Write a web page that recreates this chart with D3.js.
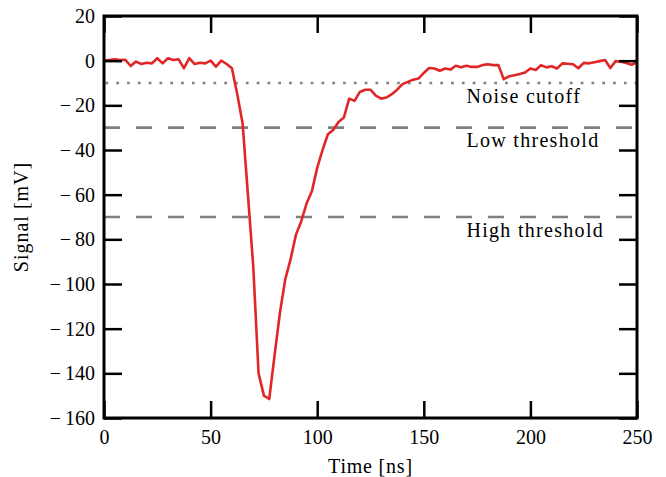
<!DOCTYPE html>
<html><head><meta charset="utf-8">
<script src="https://cdn.jsdelivr.net/npm/d3@7"></script>
<style>
html,body{margin:0;padding:0;background:#fff;}
svg text{font-family:"Liberation Serif","Times New Roman",serif;fill:#000;}
</style></head>
<body><svg id="chart" width="666" height="477"></svg>
<script>
const timeNs = d3.range(0, 250.01, 2.5);
const signalMv = [
  0, 0.3, 0.6, 0.3, 0.4, -2.4, -0.4, -1.5, -0.9, -1.2,
  1.1, -1.2, 1.1, 0.3, 0.6, -3.4, 1.1, -1.5, -0.9, -1.2,
  0, -2.7, 0, -1.5, -3.4, -15, -28, -60, -92, -140,
  -150, -151.5, -132, -113, -98, -89, -78, -72, -64, -58.5,
  -48, -40, -33, -31, -27.5, -25.5, -17, -18, -14, -13,
  -13, -15.7, -17, -16.5, -15, -13, -10.5, -9.5, -8.5, -8,
  -5.5, -3.3, -3.5, -4.5, -3.5, -4, -2.3, -3, -2.3, -2.8,
  -2.8, -2, -1.6, -2, -2, -8.3, -7, -6.5, -6, -5.3,
  -3.5, -4.2, -2, -3, -2.5, -3.5, -1.2, -1.4, -1.6, -3.4,
  -1, -1.2, -0.7, -0.2, 0.3, -3.3, -0.2, -0.5, -1, -1.8,
  -0.8
];
const thresholdNames = ["Noise cutoff", "Low threshold", "High threshold"];
const thresholdValues = [-10, -30, -70];
const thresholdStyles = ["dotted", "dashed", "dashed"];
const xTicks = [0, 50, 100, 150, 200, 250];
const yTicks = [20, 0, -20, -40, -60, -80, -100, -120, -140, -160];
const labelX = 170;

const L = 104, R = 637, T = 16, B = 418;
const svg = d3.select("#chart");
const x = d3.scaleLinear().domain([0, 250]).range([L, R]);
const y = d3.scaleLinear().domain([-160, 20]).range([B, T]);

svg.append("defs").append("clipPath").attr("id", "clip")
  .append("rect").attr("x", L).attr("y", T).attr("width", R - L).attr("height", B - T);

// threshold lines
const thr = svg.append("g");
thresholdValues.forEach((v, i) => {
  thr.append("line")
    .attr("x1", L).attr("x2", R).attr("y1", y(v)).attr("y2", y(v))
    .attr("stroke", "#808080").attr("stroke-width", 2.6)
    .attr("stroke-dasharray", thresholdStyles[i] === "dotted" ? "2.7,8.1" : "16,16")
    .attr("stroke-dashoffset", thresholdStyles[i] === "dotted" ? -1.5 : 0);
  thr.append("text")
    .attr("x", x(labelX)).attr("y", y(v) + 19.5)
    .attr("font-size", 20).attr("letter-spacing", 1.3)
    .text(thresholdNames[i]);
});

// signal
const data = timeNs.map((t, i) => [t, signalMv[i]]);
svg.append("path").datum(data)
  .attr("clip-path", "url(#clip)")
  .attr("fill", "none").attr("stroke", "#e02626").attr("stroke-width", 2.6)
  .attr("stroke-linejoin", "round")
  .attr("d", d3.line().x(d => x(d[0])).y(d => y(d[1])));

// axes
function styleAxis(g) {
  g.select(".domain").remove();
  g.selectAll(".tick line").attr("stroke", "#000").attr("stroke-width", 2.5);
  g.selectAll(".tick text").attr("font-size", 20).attr("font-family", "Liberation Serif, serif");
}
const fmt = d => d < 0 ? "\u2212\u2009" + Math.abs(d) : String(d);
svg.append("g").attr("transform", `translate(${L},0)`)
  .call(d3.axisLeft(y).tickValues(yTicks).tickSize(-18).tickPadding(9).tickFormat(fmt))
  .call(styleAxis);
svg.append("g").attr("transform", `translate(${R},0)`)
  .call(d3.axisRight(y).tickValues(yTicks).tickSize(-18).tickFormat(""))
  .call(styleAxis);
svg.append("g").attr("transform", `translate(0,${B})`)
  .call(d3.axisBottom(x).tickValues(xTicks).tickSize(-17).tickPadding(12).tickFormat(fmt))
  .call(styleAxis);
svg.append("g").attr("transform", `translate(0,${T})`)
  .call(d3.axisTop(x).tickValues(xTicks).tickSize(-17).tickFormat(""))
  .call(styleAxis);

// frame
svg.append("rect").attr("x", L).attr("y", T).attr("width", R - L).attr("height", B - T)
  .attr("fill", "none").attr("stroke", "#000").attr("stroke-width", 3);

// axis labels
svg.append("text").attr("x", (L + R) / 2).attr("y", 473)
  .attr("text-anchor", "middle").attr("font-size", 20).attr("letter-spacing", 0.8).text("Time [ns]");
svg.append("text").attr("transform", `translate(28,${(T + B) / 2}) rotate(-90)`)
  .attr("text-anchor", "middle").attr("font-size", 20).attr("letter-spacing", 1).text("Signal [mV]");
</script></body></html>
